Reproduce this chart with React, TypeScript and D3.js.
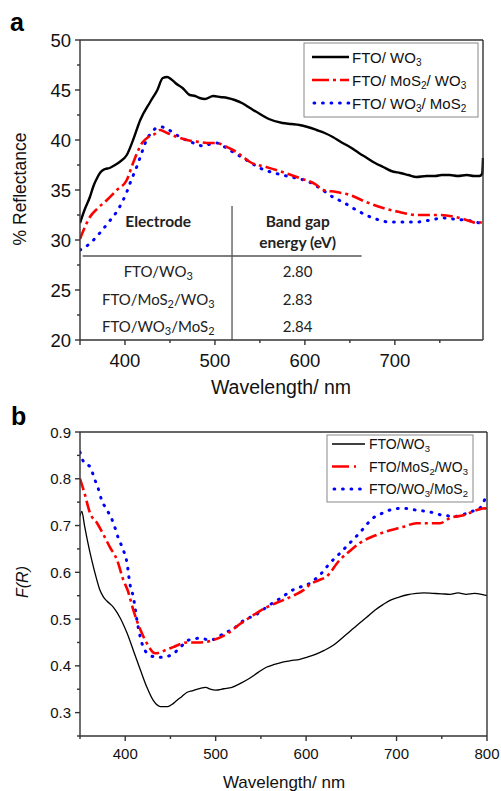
import React from "react";
import * as d3 from "d3";

// ---------- Panel a data: % Reflectance vs wavelength ----------
const aWO3: [number, number][] = [
  [350, 31.7], [355, 33.0], [361, 34.3], [365, 35.4], [369, 36.2], [373, 36.8], [378, 37.1], [383, 37.2],
  [389, 37.5], [394, 37.8], [402, 38.5], [409, 40.0], [417, 42.0], [428, 43.8], [436, 45.0], [442, 46.2],
  [447, 46.3], [451, 46.1], [456, 45.7], [464, 45.2], [472, 44.5], [478, 44.4], [483, 44.2], [489, 44.1],
  [498, 44.4], [506, 44.3], [514, 44.2], [522, 44.0], [530, 43.7], [539, 43.2], [550, 42.6], [560, 42.1],
  [575, 41.7], [585, 41.6], [594, 41.5], [603, 41.3], [613, 41.0], [622, 40.7], [631, 40.3], [640, 39.8],
  [650, 39.3], [660, 38.7], [669, 38.2], [678, 37.7], [687, 37.3], [696, 36.9], [706, 36.7], [715, 36.5],
  [724, 36.3], [735, 36.4], [745, 36.4], [752, 36.5], [761, 36.5], [770, 36.4], [780, 36.5], [788, 36.4],
  [794, 36.4], [797, 36.6], [798, 38.2],
];
const aMoS2WO3: [number, number][] = [
  [350, 30.1], [355, 31.2], [361, 32.3], [370, 33.2], [380, 34.0], [391, 35.0], [402, 36.0], [409, 37.7],
  [419, 39.7], [426, 40.3], [433, 40.6], [439, 41.0], [447, 40.7], [455, 40.4], [465, 40.1], [474, 39.9],
  [483, 39.8], [491, 39.7], [502, 39.7], [511, 39.4], [520, 39.0], [530, 38.4], [539, 37.8], [557, 37.3],
  [575, 36.8], [594, 36.2], [613, 35.5], [620, 35.0], [635, 34.8], [650, 34.5], [668, 33.8], [687, 33.2],
  [705, 32.8], [724, 32.5], [737, 32.5], [750, 32.5], [772, 32.2], [783, 31.9], [791, 31.7], [798, 31.8],
];
const aWO3MoS2: [number, number][] = [
  [350, 29.0], [359, 29.5], [365, 30.0], [372, 30.7], [382, 31.8], [392, 33.0], [402, 34.8], [407, 36.0],
  [413, 37.3], [417, 38.3], [424, 40.0], [429, 40.7], [435, 41.2], [441, 41.3], [447, 41.1], [454, 40.7],
  [461, 40.3], [468, 40.0], [476, 39.7], [487, 39.4], [495, 39.6], [502, 39.7], [511, 39.3], [520, 38.8],
  [535, 38.0], [550, 37.2], [575, 36.5], [590, 36.2], [605, 35.8], [618, 35.1], [631, 34.3], [642, 33.8],
  [659, 32.9], [676, 32.2], [694, 31.8], [710, 31.8], [724, 31.8], [740, 32.0], [754, 32.2], [765, 32.1],
  [776, 32.0], [785, 31.9], [794, 31.7], [798, 31.6],
];

// ---------- Panel b data: F(R) vs wavelength ----------
const bWO3: [number, number][] = [
  [350, 0.72], [352, 0.73], [355, 0.70], [358, 0.67], [363, 0.626], [368, 0.588], [372, 0.562], [376, 0.547],
  [380, 0.538], [387, 0.525], [394, 0.504], [402, 0.47], [409, 0.433], [417, 0.39], [424, 0.354], [431, 0.326],
  [439, 0.313], [447, 0.313], [452, 0.318], [457, 0.326], [463, 0.335], [468, 0.343], [475, 0.347], [483, 0.352],
  [489, 0.354], [494, 0.35], [500, 0.348], [509, 0.351], [518, 0.354], [528, 0.363], [538, 0.374], [547, 0.386],
  [556, 0.397], [565, 0.403], [574, 0.408], [583, 0.411], [593, 0.414], [602, 0.419], [611, 0.425], [620, 0.433],
  [630, 0.444], [639, 0.458], [648, 0.473], [657, 0.488], [667, 0.504], [676, 0.519], [685, 0.531], [694, 0.541],
  [703, 0.547], [712, 0.552], [722, 0.555], [730, 0.556], [740, 0.555], [750, 0.554], [759, 0.553], [768, 0.556],
  [777, 0.553], [786, 0.555], [794, 0.553], [800, 0.55],
];
const bMoS2WO3: [number, number][] = [
  [350, 0.80], [355, 0.769], [361, 0.727], [369, 0.705], [375, 0.684], [383, 0.654], [391, 0.626], [398, 0.583],
  [403, 0.56], [409, 0.519], [417, 0.476], [424, 0.448], [433, 0.427], [439, 0.429], [446, 0.435], [453, 0.44],
  [468, 0.45], [483, 0.45], [497, 0.455], [513, 0.469], [528, 0.491], [539, 0.505], [556, 0.525], [574, 0.54],
  [588, 0.552], [597, 0.562], [605, 0.575], [614, 0.583], [622, 0.59], [637, 0.626], [648, 0.645], [659, 0.662],
  [678, 0.68], [693, 0.69], [707, 0.697], [722, 0.705], [737, 0.705], [748, 0.705], [759, 0.716], [774, 0.722],
  [789, 0.733], [798, 0.737], [800, 0.733],
];
const bWO3MoS2: [number, number][] = [
  [350, 0.857], [355, 0.833], [361, 0.826], [366, 0.80], [370, 0.78], [374, 0.754], [380, 0.733], [387, 0.705],
  [392, 0.675], [398, 0.647], [402, 0.62], [405, 0.577], [409, 0.547], [413, 0.497], [420, 0.44], [428, 0.422],
  [436, 0.418], [450, 0.422], [461, 0.44], [470, 0.455], [483, 0.459], [494, 0.455], [509, 0.469], [520, 0.48],
  [531, 0.497], [545, 0.51], [558, 0.528], [572, 0.545], [585, 0.562], [606, 0.579], [617, 0.598], [626, 0.619],
  [637, 0.64], [648, 0.662], [659, 0.684], [674, 0.716], [685, 0.727], [696, 0.735], [707, 0.737], [722, 0.733],
  [737, 0.729], [751, 0.722], [766, 0.72], [781, 0.729], [792, 0.737], [798, 0.758],
];

// ---------- Labels ----------
const aLegend = ["FTO/ WO3", "FTO/ MoS2/ WO3", "FTO/ WO3/ MoS2"];
const bLegend = ["FTO/WO3", "FTO/MoS2/WO3", "FTO/WO3/MoS2"];
const tableElectrodes = ["FTO/WO3", "FTO/MoS2/WO3", "FTO/WO3/MoS2"];
const tableGaps = ["2.80", "2.83", "2.84"];
const aXTicks = [400, 500, 600, 700];
const aXMinor = [450, 550, 650, 750];
const aYTicks = [20, 25, 30, 35, 40, 45, 50];
const aYMinor = [22.5, 27.5, 32.5, 37.5, 42.5, 47.5];
const bXTicks = [400, 500, 600, 700, 800];
const bXMinor = [350, 450, 550, 650, 750];
const bYTicks = [0.3, 0.4, 0.5, 0.6, 0.7, 0.8, 0.9];
const bYMinor = [0.25, 0.35, 0.45, 0.55, 0.65, 0.75, 0.85];

const styles = [
  { stroke: "#000", dash: "", wA: 2.4, wB: 1.3, cap: "butt" },
  { stroke: "#f00", dash: "12,4,3,4", wA: 2.6, wB: 2.6, cap: "butt" },
  { stroke: "#0000ff", dash: "0.8,7.7", wA: 3.0, wB: 3.0, cap: "round" },
];

// Render label with digits following a letter as subscripts
function SubText({ text, subSize }: { text: string; subSize: number }) {
  const parts: { t: string; sub: boolean }[] = [];
  for (let i = 0; i < text.length; i++) {
    const ch = text[i];
    const sub = /[0-9]/.test(ch) && i > 0 && /[A-Za-z]/.test(text[i - 1]);
    if (parts.length && parts[parts.length - 1].sub === sub) parts[parts.length - 1].t += ch;
    else parts.push({ t: ch, sub });
  }
  return (
    <>
      {parts.map((p, i) =>
        p.sub ? (
          <tspan key={i} fontSize={subSize} baselineShift="-30%">
            {p.t}
          </tspan>
        ) : (
          <tspan key={i}>{p.t}</tspan>
        )
      )}
    </>
  );
}

const FONT = "'Liberation Sans', Arial, sans-serif";
const TFONT = "Lato, 'Open Sans', sans-serif";

export default function App() {
  const W = 501;
  const H = 791;

  const axA = d3.scaleLinear().domain([350, 798]).range([80, 483]);
  const ayA = d3.scaleLinear().domain([20, 50]).range([340, 40]);
  const bxB = d3.scaleLinear().domain([350, 800]).range([80, 487]);
  const byB = d3.scaleLinear().domain([0.25, 0.9]).range([736, 432]);

  const lineA = d3
    .line<[number, number]>()
    .x((d) => axA(d[0]))
    .y((d) => ayA(d[1]))
    .curve(d3.curveMonotoneX);
  const lineB = d3
    .line<[number, number]>()
    .x((d) => bxB(d[0]))
    .y((d) => byB(d[1]))
    .curve(d3.curveMonotoneX);

  const aSeries = [aWO3, aMoS2WO3, aWO3MoS2];
  const bSeries = [bWO3, bMoS2WO3, bWO3MoS2];
  const order = [2, 1, 0];

  const aL = axA.range()[0], aR = axA.range()[1], aT = ayA.range()[1], aB = ayA.range()[0];
  const bL = bxB.range()[0], bR = bxB.range()[1], bT = byB.range()[1], bB = byB.range()[0];

  const tableColX = axA(519);
  const tableLineY = 256;

  return (
    <svg width={W} height={H} style={{ position: "absolute", left: 0, top: 0, background: "#fff" }}>
      <rect x={0} y={0} width={W} height={H} fill="#fff" />
      {/* ================= Panel a ================= */}
      <text x={10} y={31} fontFamily={FONT} fontWeight="bold" fontSize={25}>a</text>
      <defs>
        <clipPath id="clipA">
          <rect x={aL} y={aT} width={aR - aL + 1} height={aB - aT} />
        </clipPath>
        <clipPath id="clipB">
          <rect x={bL} y={bT} width={bR - bL} height={bB - bT} />
        </clipPath>
      </defs>

      {/* table */}
      <g fontFamily={TFONT} fill="#222" textAnchor="middle">
        <text x={axA(437)} y={227} fontSize={15.5} fontWeight="bold">Electrode</text>
        <text x={axA(592)} y={227} fontSize={15.5} fontWeight="bold">Band gap</text>
        <text x={axA(592)} y={248} fontSize={15.5} fontWeight="bold">energy (eV)</text>
        <line x1={axA(353)} x2={axA(663)} y1={tableLineY} y2={tableLineY} stroke="#555" strokeWidth={1.3} />
        <line x1={tableColX} x2={tableColX} y1={206} y2={aB} stroke="#555" strokeWidth={1.3} />
        {tableElectrodes.map((e, i) => (
          <text key={e} x={axA(437)} y={277 + i * 27.5} fontSize={15}>
            <SubText text={e} subSize={11} />
          </text>
        ))}
        {tableGaps.map((g, i) => (
          <text key={g} x={axA(592)} y={277 + i * 27.5} fontSize={15}>{g}</text>
        ))}
      </g>

      <g clipPath="url(#clipA)">
        {order.map((i) => (
          <path
            key={i}
            d={lineA(aSeries[i]) || ""}
            fill="none"
            stroke={styles[i].stroke}
            strokeWidth={styles[i].wA}
            strokeDasharray={styles[i].dash}
            strokeLinecap={styles[i].cap as any}
            strokeLinejoin="round"
          />
        ))}
      </g>

      {/* frame a */}
      <g stroke="#333" strokeWidth={1.4} fill="none">
        <line x1={aL} x2={aR} y1={aT} y2={aT} />
        <line x1={aR} x2={aR} y1={aT} y2={aB} />
        <line x1={aL} x2={aL} y1={aT} y2={aB} />
        <line x1={aL} x2={aR} y1={aB} y2={aB} />
        {aXTicks.map((t) => (
          <line key={t} x1={axA(t)} x2={axA(t)} y1={aB} y2={aB + 5} />
        ))}
        {aXMinor.map((t) => (
          <line key={t} x1={axA(t)} x2={axA(t)} y1={aB} y2={aB + 3} />
        ))}
        <line x1={aL} x2={aL} y1={aB} y2={aB + 5} />
        {aYTicks.map((t) => (
          <line key={t} x1={aL - 5} x2={aL} y1={ayA(t)} y2={ayA(t)} />
        ))}
        {aYMinor.map((t) => (
          <line key={t} x1={aL - 3} x2={aL} y1={ayA(t)} y2={ayA(t)} />
        ))}
      </g>
      <g fontFamily={FONT} fontSize={18.5} fill="#111">
        {aXTicks.map((t) => (
          <text key={t} x={axA(t)} y={aB + 27} textAnchor="middle">{t}</text>
        ))}
        {aYTicks.map((t) => (
          <text key={t} x={aL - 9} y={ayA(t) + 6.5} textAnchor="end">{t}</text>
        ))}
        <text x={281} y={394} fontSize={19.5} textAnchor="middle">Wavelength/ nm</text>
        <text transform="translate(26,189) rotate(-90)" fontSize={17.5} textAnchor="middle">% Reflectance</text>
      </g>

      {/* legend a */}
      <g>
        <rect x={304} y={43} width={174} height={74} fill="#fff" stroke="#888" strokeWidth={1} />
        {aLegend.map((l, i) => {
          const y = 57 + i * 23;
          return (
            <g key={l}>
              <line
                x1={i === 2 ? 314 : 312}
                x2={349}
                y1={y}
                y2={y}
                stroke={styles[i].stroke}
                strokeWidth={styles[i].wA}
                strokeDasharray={i === 1 ? "17,4,3,4" : styles[i].dash}
                strokeLinecap={styles[i].cap as any}
              />
              <text x={352} y={y + 5.5} fontFamily={FONT} fontSize={15} fill="#111">
                <SubText text={l} subSize={10} />
              </text>
            </g>
          );
        })}
      </g>

      {/* ================= Panel b ================= */}
      <text x={11} y={425} fontFamily={FONT} fontWeight="bold" fontSize={25}>b</text>

      <g clipPath="url(#clipB)">
        {order.map((i) => (
          <path
            key={i}
            d={lineB(bSeries[i]) || ""}
            fill="none"
            stroke={styles[i].stroke}
            strokeWidth={styles[i].wB}
            strokeDasharray={styles[i].dash}
            strokeLinecap={styles[i].cap as any}
            strokeLinejoin="round"
          />
        ))}
      </g>

      <g stroke="#333" strokeWidth={1.4} fill="none">
        <line x1={bL} x2={bR} y1={bT} y2={bT} />
        <line x1={bR} x2={bR} y1={bT} y2={bB} />
        <line x1={bL} x2={bL} y1={bT} y2={bB} />
        <line x1={bL} x2={bR} y1={bB} y2={bB} />
        {bXTicks.map((t) => (
          <line key={t} x1={bxB(t)} x2={bxB(t)} y1={bB} y2={bB + 5} />
        ))}
        {bXMinor.map((t) => (
          <line key={t} x1={bxB(t)} x2={bxB(t)} y1={bB} y2={bB + 3} />
        ))}
        {bYTicks.map((t) => (
          <line key={t} x1={bL - 5} x2={bL} y1={byB(t)} y2={byB(t)} />
        ))}
        {bYMinor.map((t) => (
          <line key={t} x1={bL - 3} x2={bL} y1={byB(t)} y2={byB(t)} />
        ))}
      </g>
      <g fontFamily={FONT} fontSize={15} fill="#111">
        {bXTicks.map((t) => (
          <text key={t} x={bxB(t)} y={bB + 23} textAnchor="middle">{t}</text>
        ))}
        {bYTicks.map((t) => (
          <text key={t} x={bL - 9} y={byB(t) + 5.5} textAnchor="end">{d3.format(".1f")(t)}</text>
        ))}
        <text x={284} y={788} fontSize={17} textAnchor="middle">Wavelength/ nm</text>
        <text transform="translate(28,582) rotate(-90)" fontSize={16} fontStyle="italic" textAnchor="middle">F(R)</text>
      </g>

      {/* legend b */}
      <g>
        <rect x={327} y={435} width={146} height={67} fill="#fff" stroke="#888" strokeWidth={1} />
        {bLegend.map((l, i) => {
          const y = 444 + i * 22.5;
          return (
            <g key={l}>
              <line
                x1={i === 2 ? 334 : 332}
                x2={i === 1 ? 356 : 365}
                y1={y}
                y2={y}
                stroke={styles[i].stroke}
                strokeWidth={i === 0 ? 1.6 : styles[i].wB}
                strokeDasharray={i === 1 ? "17,5,3,20" : styles[i].dash}
                strokeLinecap={styles[i].cap as any}
              />
              <text x={369} y={y + 5} fontFamily={FONT} fontSize={14} fill="#111">
                <SubText text={l} subSize={9.5} />
              </text>
            </g>
          );
        })}
      </g>
    </svg>
  );
}
